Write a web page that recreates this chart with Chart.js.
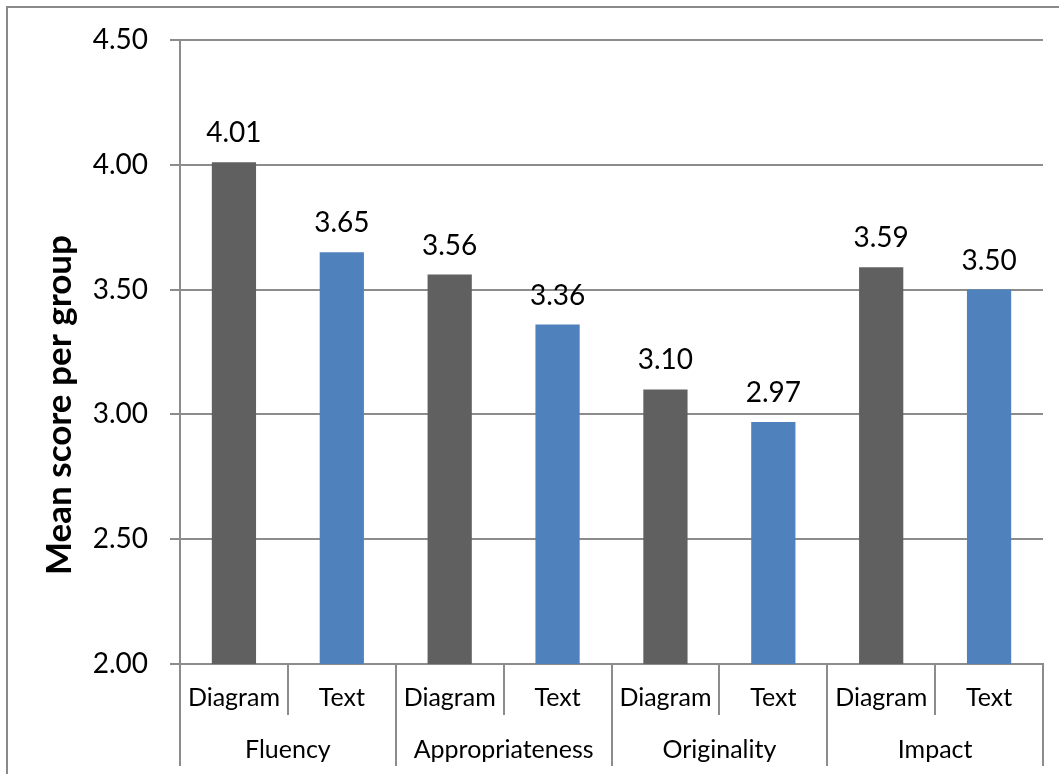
<!DOCTYPE html>
<html>
<head>
<meta charset="utf-8">
<script src="https://cdn.jsdelivr.net/npm/chart.js@4"></script>
<style>
  html, body { margin: 0; padding: 0; background: #fff; overflow: hidden; }
  #frame {
    position: absolute; left: 6px; top: 6px; width: 1200px; height: 900px;
    border-top: 2px solid #8a8a8a; border-left: 2px solid #8a8a8a;
  }
  #wrap { position: absolute; left: 0; top: 0; width: 1059px; height: 774px; }
</style>
</head>
<body>
<div id="frame"></div>
<div id="wrap"><canvas id="chart"></canvas></div>
<script>
// Data
const groups = ['Fluency', 'Appropriateness', 'Originality', 'Impact'];
const conditions = ['Diagram', 'Text'];
const diagramScores = [4.01, 3.56, 3.10, 3.59];
const textScores = [3.65, 3.36, 2.97, 3.50];
const yTicks = [2.00, 2.50, 3.00, 3.50, 4.00, 4.50];

const DIAGRAM_COLOR = '#606060';
const TEXT_COLOR = '#4f81bd';
const LINE_COLOR = '#8c8c8c';
const FONT = 'Lato';

// Build interleaved labels and values (Diagram, Text per group)
const labels = [];
const values = [];
const colors = [];
groups.forEach((g, i) => {
  labels.push(conditions[0]);
  values.push(diagramScores[i]);
  colors.push(DIAGRAM_COLOR);
  labels.push(conditions[1]);
  values.push(textScores[i]);
  colors.push(TEXT_COLOR);
});

// Value labels above the bars
const valueLabels = {
  id: 'valueLabels',
  afterDatasetsDraw(chart) {
    const ctx = chart.ctx;
    const meta = chart.getDatasetMeta(0);
    ctx.save();
    ctx.font = '28px ' + FONT;
    ctx.fillStyle = '#000';
    ctx.textAlign = 'center';
    ctx.textBaseline = 'alphabetic';
    meta.data.forEach((bar, i) => {
      ctx.fillText(values[i].toFixed(2), bar.x, bar.y - 20);
    });
    ctx.restore();
  }
};

// Y axis title, placed like the reference
const yTitle = {
  id: 'yTitle',
  afterDraw(chart) {
    const ctx = chart.ctx;
    ctx.save();
    ctx.translate(60, 405);
    ctx.rotate(-Math.PI / 2);
    ctx.font = 'bold 35px ' + FONT;
    ctx.fillStyle = '#000';
    ctx.textAlign = 'center';
    ctx.textBaseline = 'middle';
    ctx.fillText('Mean score per group', 0, 0);
    ctx.restore();
  }
};

new Chart(document.getElementById('chart'), {
  type: 'bar',
  data: {
    labels: labels,
    datasets: [{
      data: values,
      backgroundColor: colors,
      borderWidth: 0,
      barPercentage: 0.41,
      categoryPercentage: 1.0
    }]
  },
  options: {
    responsive: true,
    maintainAspectRatio: false,
    animation: false,
    layout: { padding: { left: 0, top: 40, right: 16, bottom: 8 } },
    plugins: {
      legend: { display: false },
      tooltip: { enabled: false }
    },
    scales: {
      y: {
        min: yTicks[0],
        max: yTicks[yTicks.length - 1],
        afterBuildTicks: (s) => { s.ticks = yTicks.map(v => ({ value: v })); },
        afterFit: (s) => { s.width = 180; },
        ticks: {
          callback: (v) => Number(v).toFixed(2),
          font: { family: FONT, size: 28 },
          color: '#000',
          padding: 22
        },
        grid: { color: LINE_COLOR, lineWidth: 2, tickLength: 10 },
        border: { color: LINE_COLOR, width: 2 }
      },
      x: {
        weight: 0,
        afterFit: (s) => { s.height = 51; },
        ticks: {
          font: { family: FONT, size: 25 },
          color: '#000',
          autoSkip: false,
          maxRotation: 0,
          padding: -32
        },
        grid: {
          offset: true,
          drawOnChartArea: false,
          drawTicks: true,
          tickLength: 51,
          color: LINE_COLOR,
          lineWidth: 2
        },
        border: { color: LINE_COLOR, width: 2 }
      },
      x2: {
        type: 'category',
        labels: groups,
        position: 'bottom',
        weight: 1,
        afterFit: (s) => { s.height = 51; },
        ticks: {
          font: { family: FONT, size: 25 },
          color: '#000',
          autoSkip: false,
          maxRotation: 0,
          padding: -31
        },
        grid: {
          offset: true,
          drawOnChartArea: false,
          drawTicks: true,
          tickLength: 51,
          color: LINE_COLOR,
          lineWidth: 2
        },
        border: { display: false }
      }
    }
  },
  plugins: [valueLabels, yTitle]
});
</script>
</body>
</html>
